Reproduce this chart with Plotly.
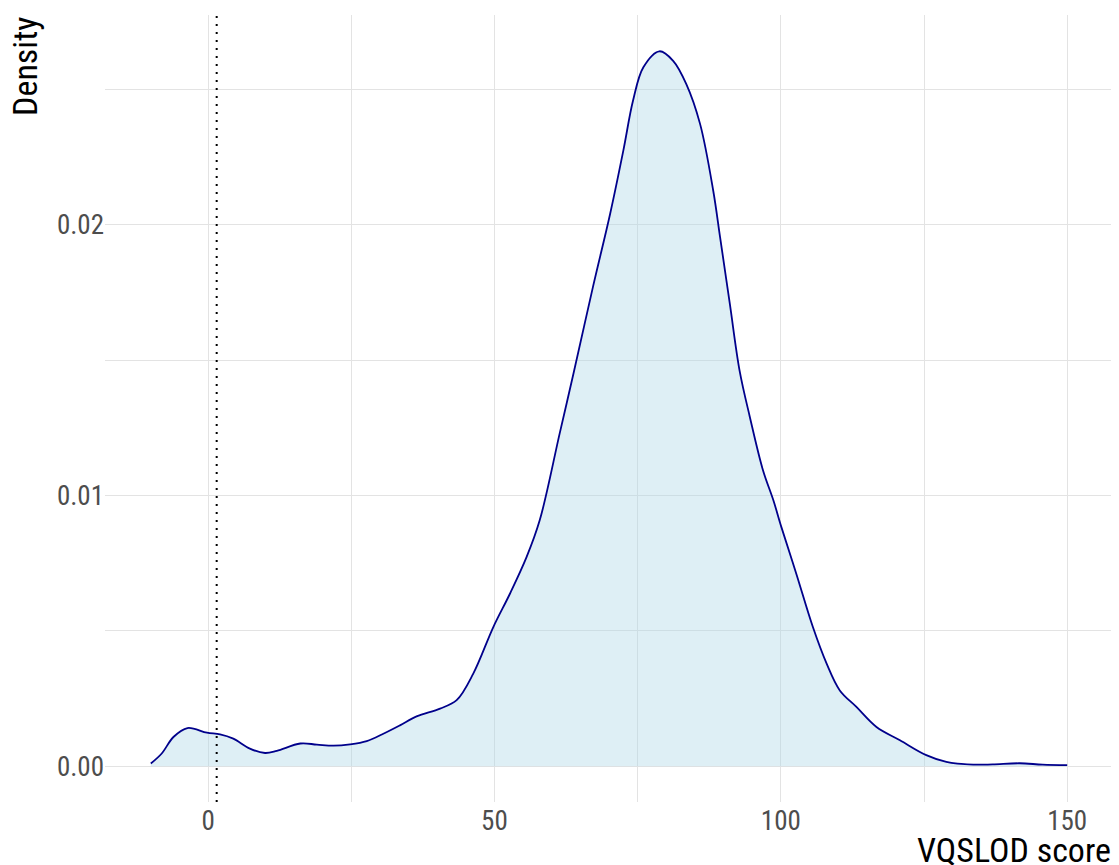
import plotly.graph_objects as go

# Data (kernel density of VQSLOD score)
score = [-10.0, -8.1, -6.05, -3.6, -0.2, 2.1, 4.4, 7.3, 9.95, 12.0, 16.1, 19.0, 21.9, 24.8,
         27.7, 30.6, 33.5, 36.4, 40.5, 43.4, 46.3, 49.8, 52.7, 55.6, 57.9, 61.4, 63.8,
         67.2, 70.2, 72.5, 74.2, 76.0, 78.8, 81.2, 83.5, 85.9, 88.2, 89.4, 91.1, 92.8,
         94.6, 96.9, 98.7, 100.1, 102.7, 105.6, 108.0, 110.3, 113.2, 116.7, 120.8, 125.4,
         128.9, 133.6, 137.0, 141.7, 145.7, 150.0]
density = [0.0001, 0.00047, 0.00108, 0.00141, 0.00124, 0.00118, 0.00102, 0.00065, 0.00049,
           0.00057, 0.00084, 0.0008, 0.00076, 0.00081, 0.00093, 0.0012, 0.00151, 0.00184,
           0.00213, 0.00244, 0.00342, 0.00514, 0.00637, 0.00772, 0.00908, 0.0123, 0.0145,
           0.0177, 0.0204, 0.02273, 0.02458, 0.02581, 0.0264, 0.02605, 0.02519, 0.02372,
           0.02125, 0.01953, 0.01707, 0.01461, 0.01289, 0.01092, 0.00982, 0.00883, 0.00711,
           0.00514, 0.00379, 0.0028, 0.00219, 0.00145, 0.00096, 0.00041, 0.00016, 0.00006,
           0.00007, 0.00011, 0.00006, 0.00004]
threshold = 1.5
x_ticks = [0, 50, 100, 150]
y_ticks = [0.00, 0.01, 0.02]

FONT = "Roboto Condensed, Liberation Sans Narrow, Roboto, sans-serif"
GRID = "#E3E3E3"

fig = go.Figure()
fig.add_trace(go.Scatter(
    x=score, y=density, mode="lines",
    line=dict(color="#00008B", width=1.8, shape="spline", smoothing=1.0),
    fill="tozeroy", fillcolor="rgba(173,216,230,0.4)",
    showlegend=False, hoverinfo="skip",
))

fig.add_shape(type="line", xref="x", yref="paper", x0=threshold, x1=threshold, y0=0, y1=1,
              line=dict(color="black", width=2, dash="2px,6px"))

fig.update_layout(
    width=1111, height=857,
    margin=dict(l=97, r=6, t=7, b=63),
    paper_bgcolor="white", plot_bgcolor="white",
    font=dict(family=FONT, color="#4D4D4D", size=27),
    xaxis=dict(range=[-18, 158], tickvals=x_ticks, ticks="", showline=False,
               zeroline=False, showgrid=True, gridcolor=GRID, gridwidth=1,
               minor=dict(tickvals=[25, 75, 125], showgrid=True, gridcolor=GRID, gridwidth=0.8),
               tickfont=dict(family=FONT, size=27, color="#4D4D4D")),
    yaxis=dict(range=[-0.00132, 0.02774], tickvals=y_ticks, tickformat=".2f", ticks="",
               showline=False, zeroline=False, showgrid=True, gridcolor=GRID, gridwidth=1,
               minor=dict(tickvals=[0.005, 0.015, 0.025], showgrid=True, gridcolor=GRID, gridwidth=0.8),
               tickfont=dict(family=FONT, size=27, color="#4D4D4D")),
    annotations=[
        dict(text="VQSLOD score", xref="paper", yref="paper", x=1, y=-0.061, xanchor="right",
             yanchor="middle", showarrow=False,
             font=dict(family=FONT, size=34, color="black")),
        dict(text="Density", xref="paper", yref="paper", x=-0.0799, y=1, xanchor="center",
             yanchor="top", textangle=-90, showarrow=False,
             font=dict(family=FONT, size=34, color="black")),
    ],
)

fig.write_html("out.html")
